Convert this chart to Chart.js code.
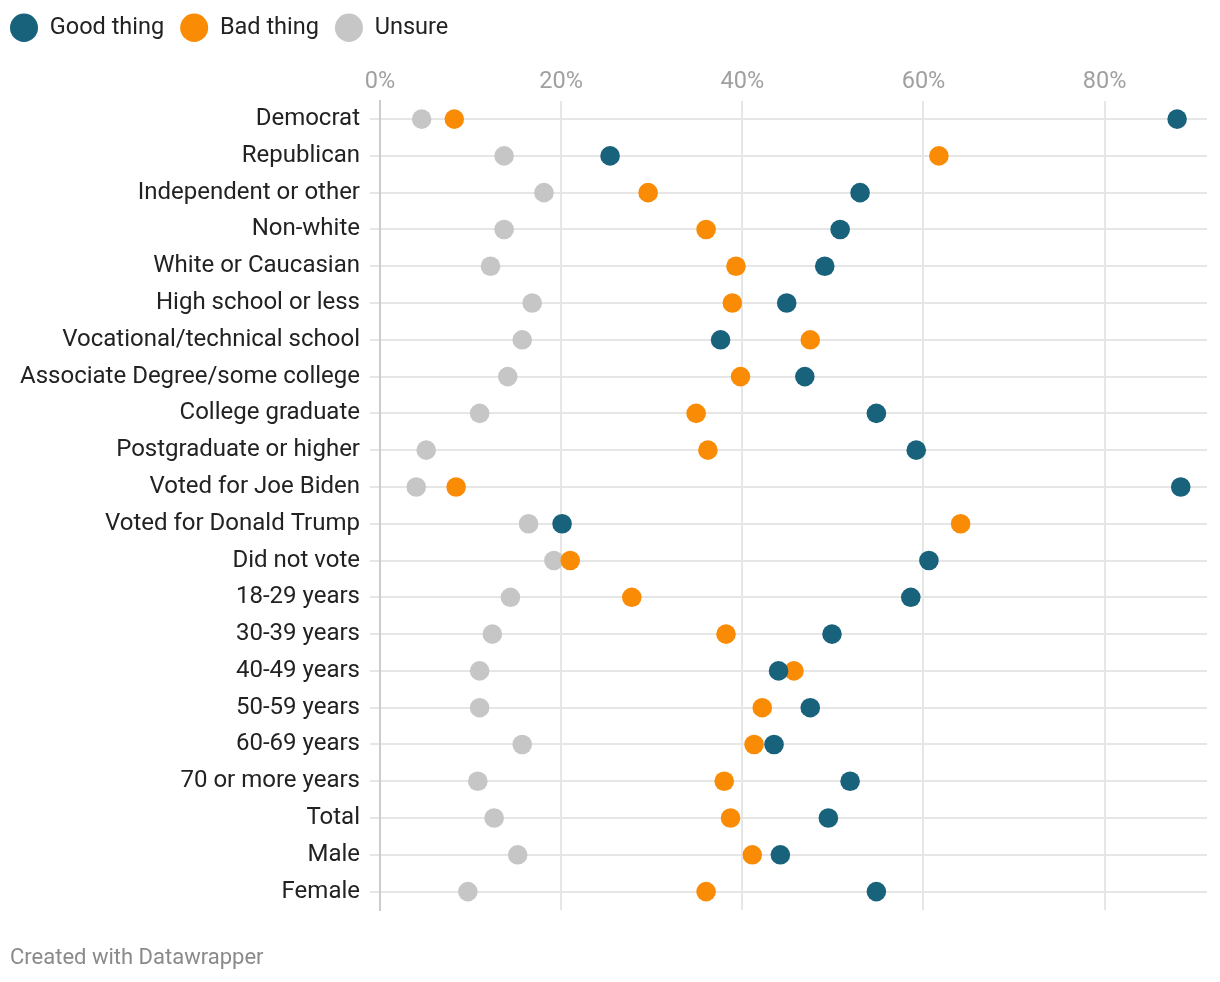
<!DOCTYPE html>
<html>
<head>
<meta charset="utf-8">
<script src="https://cdn.jsdelivr.net/npm/chart.js@4"></script>
<style>
  html, body { margin: 0; padding: 0; background: #fff; }
  #wrap { position: relative; width: 1220px; height: 982px; }
  #footer {
    position: absolute; left: 10px; top: 944px;
    font-family: Roboto, sans-serif; font-size: 22px; color: #8a8a8a;
  }
</style>
</head>
<body>
<div id="wrap">
  <canvas id="chart" width="1220" height="982"></canvas>
  <div id="footer">Created with Datawrapper</div>
</div>
<script>
const categories = [
  'Democrat', 'Republican', 'Independent or other', 'Non-white', 'White or Caucasian',
  'High school or less', 'Vocational/technical school', 'Associate Degree/some college',
  'College graduate', 'Postgraduate or higher', 'Voted for Joe Biden', 'Voted for Donald Trump',
  'Did not vote', '18-29 years', '30-39 years', '40-49 years', '50-59 years', '60-69 years',
  '70 or more years', 'Total', 'Male', 'Female'
];

const goodThing = [88.0, 25.4, 53.0, 50.8, 49.1, 44.9, 37.6, 46.9, 54.8, 59.2, 88.4, 20.1,
  60.6, 58.6, 49.9, 44.0, 47.5, 43.5, 51.9, 49.5, 44.2, 54.8];
const badThing = [8.2, 61.7, 29.6, 36.0, 39.3, 38.9, 47.5, 39.8, 34.9, 36.2, 8.4, 64.1,
  21.0, 27.8, 38.2, 45.7, 42.2, 41.3, 38.0, 38.7, 41.1, 36.0];
const unsure = [4.6, 13.7, 18.1, 13.7, 12.2, 16.8, 15.7, 14.1, 11.0, 5.1, 4.0, 16.4,
  19.2, 14.4, 12.4, 11.0, 11.0, 15.7, 10.8, 12.6, 15.2, 9.7];

const xTicks = [0, 20, 40, 60, 80];

const toPoints = (values) => values.map((v, i) => ({ x: v, y: categories[i] }));

const dotStyle = (color) => ({
  backgroundColor: color,
  borderWidth: 0,
  pointRadius: 9.8,
  pointHoverRadius: 9.8,
});

new Chart(document.getElementById('chart').getContext('2d'), {
  type: 'scatter',
  data: {
    datasets: [
      { label: 'Good thing', data: toPoints(goodThing), ...dotStyle('#18627c') },
      { label: 'Bad thing', data: toPoints(badThing), ...dotStyle('#fa8c05') },
      { label: 'Unsure', data: toPoints(unsure), ...dotStyle('#c6c6c6') },
    ],
  },
  options: {
    responsive: false,
    animation: false,
    layout: { padding: { top: 0, right: 13, bottom: 72, left: -6 } },
    font: { family: 'Roboto, sans-serif' },
    plugins: {
      tooltip: { enabled: false },
      legend: {
        position: 'top',
        align: 'start',
        labels: {
          usePointStyle: true,
          pointStyle: 'circle',
          boxHeight: 20,
          pointStyleWidth: 28,
          padding: 16,
          color: '#222',
          font: { family: 'Roboto, sans-serif', size: 23.5 },
        },
      },
    },
    scales: {
      x: {
        type: 'linear',
        position: 'top',
        min: 0,
        max: 91.3,
        afterBuildTicks: (scale) => { scale.ticks = xTicks.map((v) => ({ value: v })); },
        afterFit: (scale) => { scale.height += 15; },
        ticks: {
          includeBounds: false,
          color: '#a0a0a0',
          padding: 4,
          font: { family: 'Roboto, sans-serif', size: 23.5 },
          callback: (v) => v + '%',
        },
        grid: { color: '#e6e6e6', lineWidth: 2, drawTicks: false },
        border: { display: false },
      },
      y: {
        type: 'category',
        labels: categories,
        offset: true,
        afterFit: (scale) => { scale.width = 386; },
        ticks: {
          color: '#222',
          padding: 10,
          autoSkip: false,
          font: { family: 'Roboto, sans-serif', size: 24 },
        },
        grid: { offset: false, color: '#e6e6e6', lineWidth: 2, tickLength: 10 },
        border: { color: '#cccccc', width: 2 },
      },
    },
  },
});
</script>
</body>
</html>
